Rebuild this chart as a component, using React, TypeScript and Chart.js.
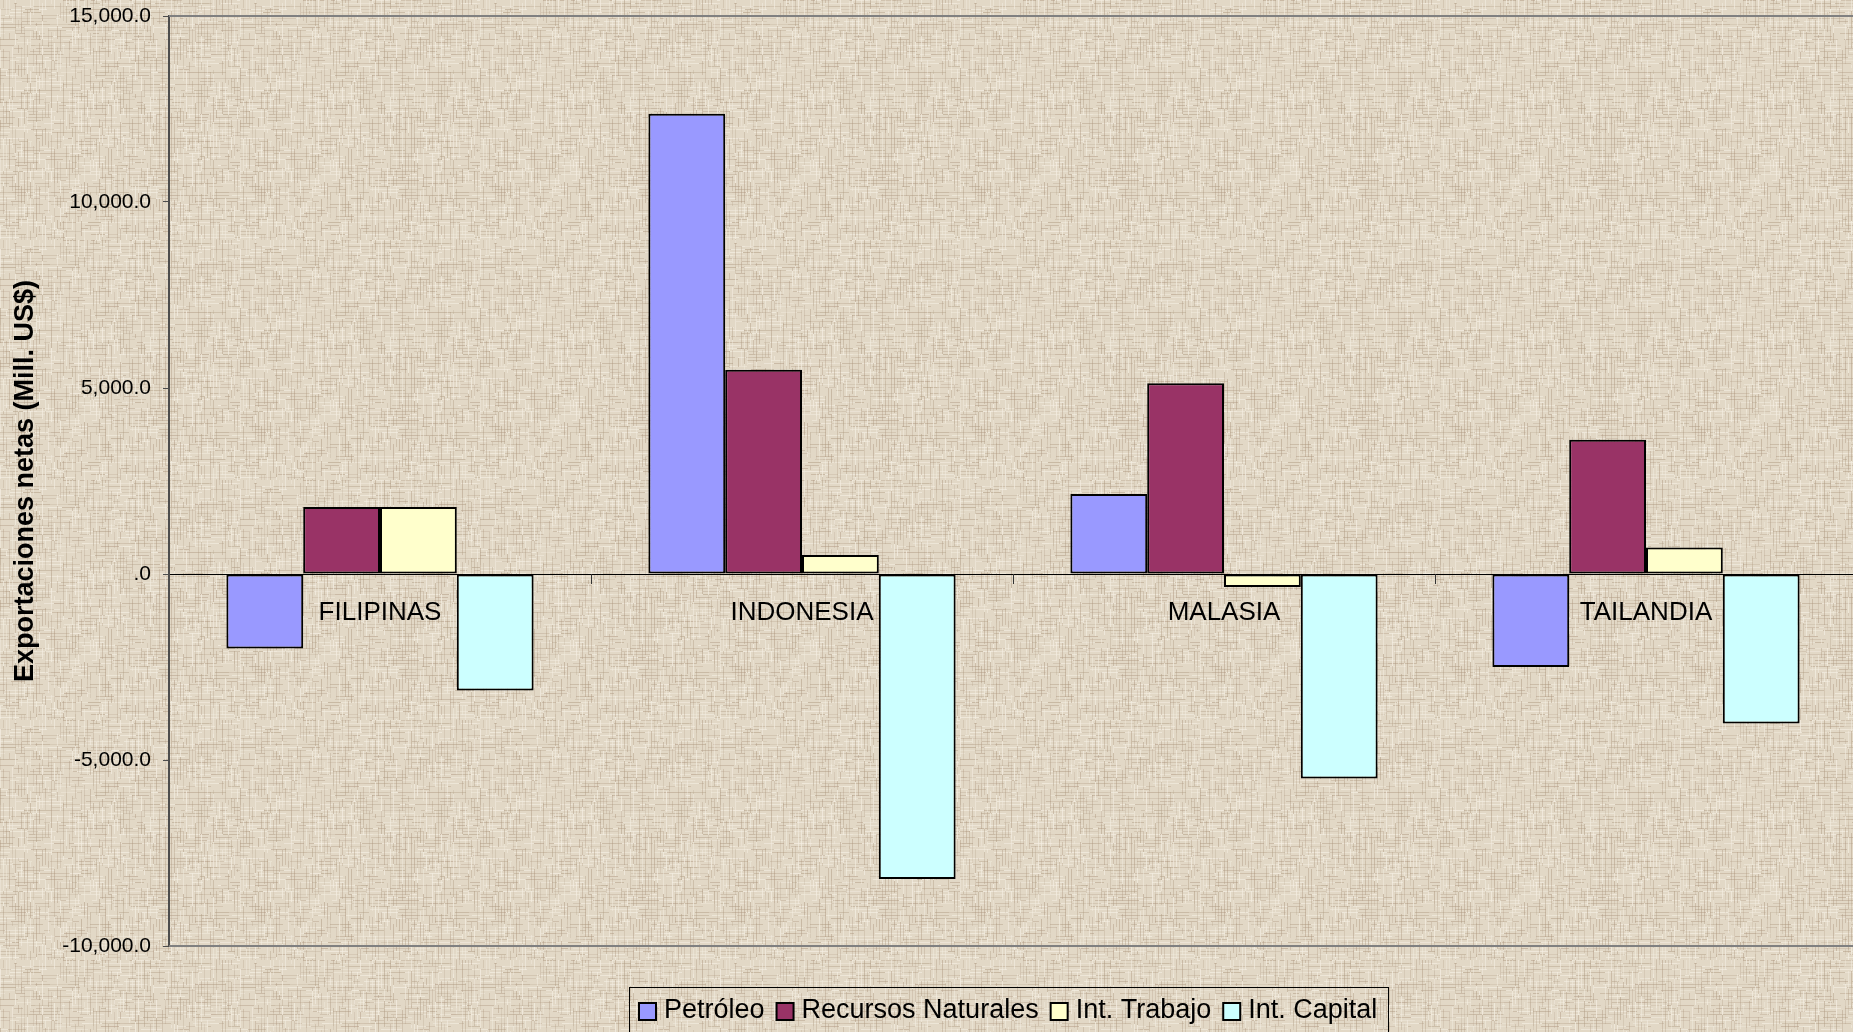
import React, { useEffect, useRef } from "react";
import { Chart, registerables } from "chart.js";

Chart.register(...registerables);

// ---- data ----
const categories = ["FILIPINAS", "INDONESIA", "MALASIA", "TAILANDIA"];
const seriesNames = ["Petróleo", "Recursos Naturales", "Int. Trabajo", "Int. Capital"];
const petroleo = [-2000, 12370, 2150, -2500];
const recursosNaturales = [1800, 5490, 5130, 3610];
const intTrabajo = [1800, 510, -350, 710];
const intCapital = [-3130, -8200, -5500, -4020];
const seriesColors = ["#9999FF", "#993366", "#FFFFCC", "#CCFFFF"];
const yTickValues = [-10000, -5000, 0, 5000, 10000, 15000];
const yAxisTitle = "Exportaciones netas (Mill. US$)";

const FONT = '"Liberation Sans", Arial, Helvetica, sans-serif';

function hash(n: number): number {
  const s = Math.sin(n * 127.1 + 311.7) * 43758.5453;
  return s - Math.floor(s);
}

function makeTexture(): HTMLCanvasElement {
  const size = 240;
  const c = document.createElement("canvas");
  c.width = size;
  c.height = size;
  const g = c.getContext("2d")!;
  g.fillStyle = "rgb(226,216,198)";
  g.fillRect(0, 0, size, size);
  let k = 1;
  const pass = (horizontal: boolean) => {
    for (let a = 0; a < size; a += 3) {
      let b = 0;
      while (b < size) {
        const len = 3 + Math.floor(hash(k++) * 16);
        const r = hash(k++);
        if (r < 0.4) {
          g.fillStyle = `rgba(172,150,126,${(0.18 + hash(k++) * 0.3).toFixed(3)})`;
        } else if (r < 0.65) {
          g.fillStyle = `rgba(244,238,226,${(0.35 + hash(k++) * 0.4).toFixed(3)})`;
        } else {
          b += len;
          continue;
        }
        if (horizontal) g.fillRect(b, a, len, 1);
        else g.fillRect(a, b, 1, len);
        b += len;
      }
    }
  };
  pass(true);
  pass(false);
  return c;
}

export default function App() {
  const canvasRef = useRef<HTMLCanvasElement | null>(null);

  useEffect(() => {
    const canvas = canvasRef.current;
    if (!canvas) return;
    const texture = makeTexture();

    const backgroundPlugin = {
      id: "texturedBackground",
      beforeDraw(chart: any) {
        const ctx = chart.ctx;
        const pat = ctx.createPattern(texture, "repeat");
        ctx.save();
        ctx.fillStyle = pat;
        ctx.fillRect(0, 0, chart.width, chart.height);
        ctx.restore();
      },
    };

    const framePlugin = {
      id: "plotFrame",
      beforeDatasetsDraw(chart: any) {
        const { ctx, chartArea } = chart;
        ctx.save();
        ctx.strokeStyle = "#808080";
        ctx.lineWidth = 2;
        ctx.beginPath();
        ctx.moveTo(chartArea.left, chartArea.top);
        ctx.lineTo(chartArea.right + 5, chartArea.top);
        ctx.moveTo(chartArea.left, chartArea.bottom);
        ctx.lineTo(chartArea.right + 5, chartArea.bottom);
        ctx.stroke();
        ctx.restore();
      },
    };

    const legendPlugin = {
      id: "boxLegend",
      afterDraw(chart: any) {
        const ctx = chart.ctx;
        ctx.save();
        ctx.strokeStyle = "#000";
        ctx.lineWidth = 1;
        ctx.strokeRect(629.5, 987.5, 759, 60);
        ctx.font = `27px ${FONT}`;
        ctx.textBaseline = "alphabetic";
        ctx.textAlign = "left";
        let x = 639;
        chart.data.datasets.forEach((ds: any) => {
          ctx.fillStyle = ds.backgroundColor;
          ctx.fillRect(x, 1003, 17, 17);
          ctx.strokeStyle = "#000";
          ctx.lineWidth = 2;
          ctx.strokeRect(x, 1003, 17, 17);
          x += 17 + 8;
          ctx.fillStyle = "#000";
          ctx.fillText(ds.label, x, 1018);
          x += ctx.measureText(ds.label).width + 12;
        });
        ctx.restore();
      },
    };

    const values = [petroleo, recursosNaturales, intTrabajo, intCapital];

    const chart = new Chart(canvas, {
      type: "bar",
      data: {
        labels: categories,
        datasets: seriesNames.map((name, i) => ({
          label: name,
          data: values[i],
          backgroundColor: seriesColors[i],
          borderColor: "#000000",
          borderWidth: 2,
          borderSkipped: false,
          categoryPercentage: 0.728,
          barPercentage: 1.0,
        })),
      },
      options: {
        responsive: false,
        animation: false,
        layout: { padding: { top: 16, bottom: 86, left: 0, right: 3 } },
        plugins: {
          legend: { display: false },
          tooltip: { enabled: false },
        },
        scales: {
          x: {
            position: { y: 0 } as any,
            offset: true,
            afterFit(scale: any) {
              scale.paddingTop = 0;
              scale.paddingBottom = 0;
              scale.paddingLeft = 0;
              scale.paddingRight = 0;
            },
            grid: {
              display: true,
              offset: true,
              drawOnChartArea: false,
              drawTicks: true,
              tickLength: 9,
              color: "#333333",
              lineWidth: 1,
            },
            border: { display: true, color: "#000000", width: 1 },
            ticks: {
              color: "#000000",
              font: { family: FONT, size: 26 },
              padding: 14,
              maxRotation: 0,
              autoSkip: false,
            },
          },
          y: {
            min: -10000,
            max: 15000,
            afterBuildTicks(scale: any) {
              scale.ticks = yTickValues.map((v) => ({ value: v }));
            },
            afterFit(scale: any) {
              scale.width = 169;
              scale.paddingTop = 0;
              scale.paddingBottom = 0;
            },
            grid: {
              display: true,
              drawOnChartArea: false,
              drawTicks: true,
              tickLength: 6,
              color: "#4d4d4d",
              lineWidth: 1,
            },
            border: { display: true, color: "#4d4d4d", width: 2 },
            ticks: {
              color: "#000000",
              font: { family: FONT, size: 21 },
              padding: 12,
              callback(value: any) {
                const v = Number(value);
                if (v === 0) return ".0";
                return v.toLocaleString("en-US", {
                  minimumFractionDigits: 1,
                  maximumFractionDigits: 1,
                });
              },
            },
            title: {
              display: true,
              text: yAxisTitle,
              color: "#000000",
              font: { family: FONT, size: 27, weight: "bold" },
              padding: { top: 9, bottom: 0 },
            },
          },
        },
      },
      plugins: [backgroundPlugin, framePlugin, legendPlugin],
    });

    return () => chart.destroy();
  }, []);

  return (
    <div
      style={{
        position: "fixed",
        left: 0,
        top: 0,
        width: 1853,
        height: 1032,
        overflow: "hidden",
      }}
    >
      <canvas ref={canvasRef} width={1860} height={1032} style={{ display: "block" }} />
    </div>
  );
}
